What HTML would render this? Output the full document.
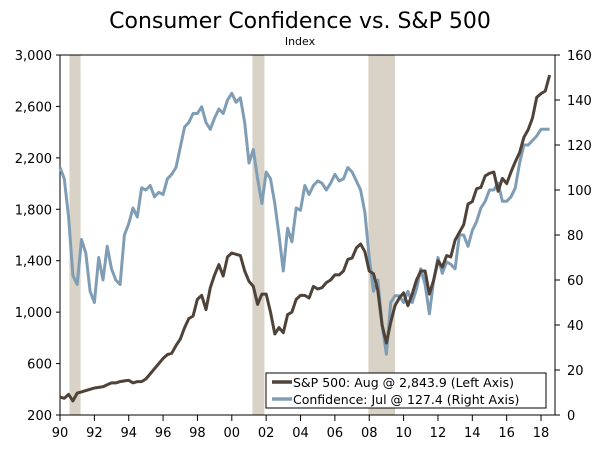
<!DOCTYPE html>
<html><head><meta charset="utf-8"><style>
body{margin:0;background:#fff;}
svg{display:block;font-family:"DejaVu Sans","Liberation Sans",sans-serif;}
</style></head><body>
<svg id="chart" width="600" height="451">
<text x="300" y="28" text-anchor="middle" font-size="22" fill="#000">Consumer Confidence vs. S&amp;P 500</text>
<text x="300" y="45" text-anchor="middle" font-size="11" fill="#000">Index</text>
<g id="rec"></g><g id="axes"></g><g id="lines"></g>
<g>
<rect x="266" y="373" width="280" height="35" fill="#fff" stroke="#000" stroke-width="1"/>
<line x1="272" y1="382" x2="292" y2="382" stroke="#4f4238" stroke-width="3.5"/>
<text x="293" y="387" font-size="12.5" fill="#000">S&amp;P 500: Aug @ 2,843.9 (Left Axis)</text>
<line x1="272" y1="399" x2="292" y2="399" stroke="#7f9db5" stroke-width="3.5"/>
<text x="293" y="404" font-size="12.5" fill="#000">Confidence: Jul @ 127.4 (Right Axis)</text>
</g>
</svg>
<script>
const recessions=[[1990.55,1991.2],[2001.2,2001.9],[2007.95,2009.5]];
const leftTicks=[200,600,1000,1400,1800,2200,2600,3000];
const rightTicks=[0,20,40,60,80,100,120,140,160];
const xTicks=[1990,1992,1994,1996,1998,2000,2002,2004,2006,2008,2010,2012,2014,2016,2018];
const sp500=[340,330,360,310,370,380,390,400,410,415,420,435,450,450,460,465,470,450,460,460,480,520,560,600,640,670,680,740,790,880,950,970,1100,1130,1020,1190,1290,1370,1280,1430,1460,1450,1440,1320,1240,1200,1060,1140,1140,1000,830,880,840,980,1000,1100,1130,1130,1110,1200,1180,1190,1230,1250,1290,1290,1320,1410,1420,1500,1530,1470,1320,1300,1170,900,760,920,1050,1110,1150,1050,1140,1250,1320,1320,1140,1250,1400,1350,1440,1430,1560,1620,1680,1840,1860,1960,1970,2060,2080,2090,1940,2040,2000,2090,2170,2240,2360,2420,2510,2670,2700,2720,2844];
const confidence=[110,105,88,62,58,78,72,55,50,70,60,75,65,60,58,80,85,92,88,101,100,102,97,99,98,105,107,110,119,128,130,134,134,137,130,127,132,136,134,140,143,139,141,130,112,118,105,94,108,105,94,80,64,83,77,92,91,102,98,102,104,103,100,103,107,104,105,110,108,104,100,90,70,55,60,40,27,50,53,53,50,55,50,56,65,58,45,60,70,63,68,67,65,80,80,75,82,86,92,95,100,100,103,95,95,97,101,112,120,120,122,124,127,127,127];
const X0=60,X1=555,Y0=55,Y1=415;
const xs=y=>60+(y-1990)*17.18;
const yl=v=>Y1-(v-200)/2800*(Y1-Y0);
const yr=v=>Y1-v/160*(Y1-Y0);
const NS='http://www.w3.org/2000/svg';
function mk(t,a,p){const e=document.createElementNS(NS,t);for(const k in a)e.setAttribute(k,a[k]);p.appendChild(e);return e;}
const rec=document.getElementById('rec'),ax=document.getElementById('axes'),ln=document.getElementById('lines');
recessions.forEach(r=>{const e=mk('rect',{x:xs(r[0]),y:Y0,width:xs(r[1])-xs(r[0]),height:Y1-Y0,fill:'#d8d3c6'},rec);

});
mk('path',{d:`M${X0},${Y0}H${X1}V${Y1}H${X0}Z`,fill:'none',stroke:'#000','stroke-width':1},ax);
leftTicks.forEach(v=>{const y=yl(v);mk('line',{x1:X0-4,x2:X0,y1:y,y2:y,stroke:'#000'},ax);
const t=mk('text',{x:X0-8,y:y+5,'text-anchor':'end','font-size':13,fill:'#000'},ax);t.textContent=v.toLocaleString('en-US');

});
rightTicks.forEach(v=>{const y=yr(v);mk('line',{x1:X1,x2:X1+5,y1:y,y2:y,stroke:'#000'},ax);
const t=mk('text',{x:X1+12,y:y+5,'font-size':13,fill:'#000'},ax);t.textContent=v;

});
xTicks.forEach(v=>{const x=xs(v);mk('line',{x1:x,x2:x,y1:Y1,y2:Y1+6,stroke:'#000'},ax);
const t=mk('text',{x:x,y:Y1+22,'text-anchor':'middle','font-size':13,fill:'#000'},ax);t.textContent=String(v).slice(2);

});
function path(arr,f,col,name){const d=arr.map((v,i)=>(i?'L':'M')+xs(1990+i*0.25).toFixed(1)+','+f(v).toFixed(1)).join('');
const p=mk('path',{d:d,fill:'none',stroke:col,'stroke-width':3,'stroke-linejoin':'round'},ln);

}
path(confidence,yr,'#7f9db5','confidence-line');
path(sp500,yl,'#4f4238','sp500-line');
</script>
</body></html>
